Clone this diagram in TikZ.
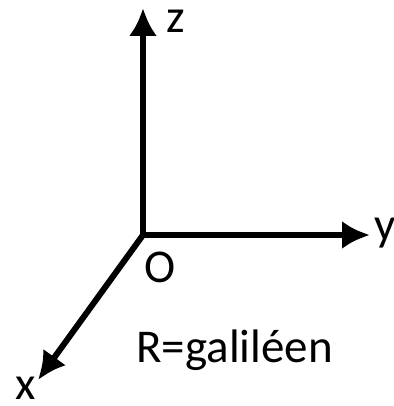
\documentclass[tikz,border=0pt]{standalone}
\usepackage{fontspec}
\setmainfont{Carlito}
\usetikzlibrary{arrows.meta}
\begin{document}
\begin{tikzpicture}[
				x=0.5pt, y=-0.5pt,
				axe/.style={line width=3pt, -{Latex[length=14pt,width=14pt]}},
				every node/.style={inner sep=0pt, anchor=base west, font=\fontsize{23.5}{28}\selectfont}
			]
			\useasboundingbox (0,0) rectangle (394,406);
			\coordinate (O) at (143,235);
			\coordinate (ez) at (143,8);
			\coordinate (ey) at (370,235);
			\coordinate (ex) at (38,380);
			\draw[axe] (O) -- (ez);
			\draw[axe] (O) -- (ey);
			\draw[axe] (O) -- (ex);
			\node (lz) at (166,33) {z};
			\node (ly) at (374,240) {y};
			\node (lx) at (15,399) {x};
			\node (lO) at (144,282) {O};
			\node (lR) at (136,362) {R=galiléen};
		\end{tikzpicture}
\end{document}
